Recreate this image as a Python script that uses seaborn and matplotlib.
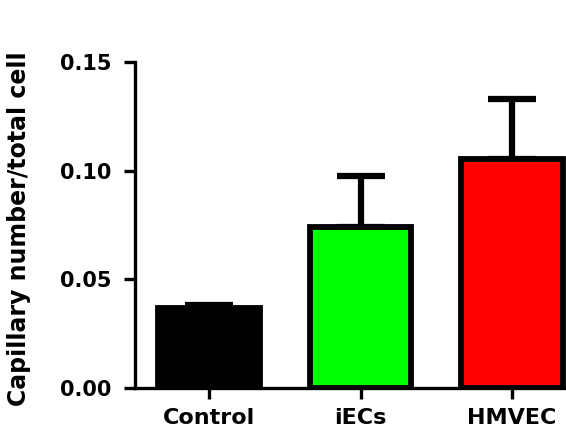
import matplotlib
matplotlib.use("Agg")
import matplotlib.pyplot as plt
import seaborn as sns
import pandas as pd

categories = ["Control", "iECs", "HMVEC"]
means = [0.0370, 0.0740, 0.1055]
sems = [0.0012, 0.0236, 0.0275]
colors = ["#000000", "#00ff00", "#ff0000"]
y_ticks = [0.00, 0.05, 0.10, 0.15]
y_tick_labels = ["0.00", "0.05", "0.10", "0.15"]
y_label = "Capillary number/total cell"

sns.set_style("white")
plt.rcParams["font.family"] = ["DejaVu Sans"]
plt.rcParams["text.color"] = "black"
plt.rcParams["axes.labelcolor"] = "black"
plt.rcParams["xtick.color"] = "black"
plt.rcParams["ytick.color"] = "black"

df = pd.DataFrame({"group": categories, "value": means})

fig = plt.figure(figsize=(5.66, 4.4), dpi=100)
ax = fig.add_axes([0.2385, 0.118, 0.80, 0.741])

sns.barplot(data=df, x="group", y="value", hue="group", palette=colors,
            order=categories, hue_order=categories, legend=False,
            saturation=1, width=0.67, edgecolor="black", linewidth=4.2,
            ax=ax, zorder=3, errorbar=None)

ax.errorbar(range(len(categories)), means, yerr=[[0] * len(sems), sems],
            fmt="none", ecolor="black", elinewidth=4.5, capsize=17,
            capthick=4.5, zorder=2)

ax.set_xlim(-0.49, 2.5)
ax.set_ylim(0, 0.15)
ax.set_yticks(y_ticks)
ax.set_yticklabels(y_tick_labels)
ax.set_xlabel("")
ax.set_ylabel(y_label, fontsize=17, fontweight="bold", color="black")
ax.yaxis.set_label_coords(-0.23, 0.49)

for s in ["top", "right"]:
    ax.spines[s].set_visible(False)
for s in ["left", "bottom"]:
    ax.spines[s].set_linewidth(2.4)
    ax.spines[s].set_color("black")
    ax.spines[s].set_zorder(4)

ax.tick_params(axis="both", which="major", direction="out", length=8,
               width=2.4, color="black", labelcolor="black", left=True,
               bottom=True)
ax.tick_params(axis="y", labelsize=15, pad=9)
ax.tick_params(axis="x", labelsize=16, pad=6)
for lab in ax.get_xticklabels() + ax.get_yticklabels():
    lab.set_fontweight("bold")
ax.grid(False)

fig.savefig("out.png", dpi=100)
